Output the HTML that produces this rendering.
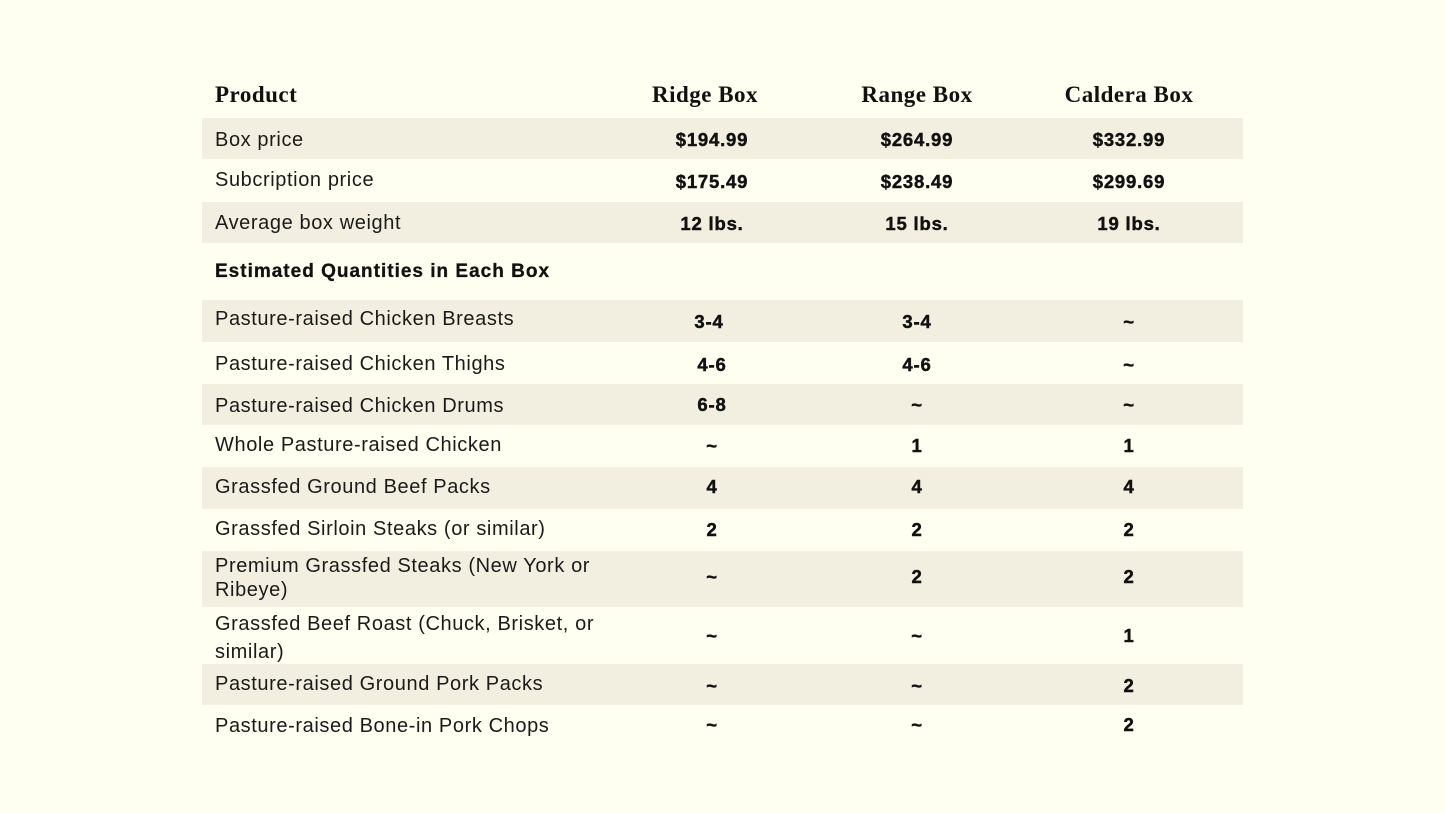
<!DOCTYPE html>
<html>
<head>
<meta charset="utf-8">
<style>
html,body{margin:0;padding:0;background:#FEFFF0;}
svg{display:block;}
.h{font-family:"Liberation Serif",serif;font-weight:bold;font-size:23px;letter-spacing:0.5px;fill:#111;}
.l{font-family:"Liberation Sans",sans-serif;font-size:20px;letter-spacing:0.6px;fill:#1a1a1a;}
.v{font-family:"Liberation Sans",sans-serif;font-weight:bold;font-size:18.5px;letter-spacing:0.8px;fill:#111;stroke:#111;stroke-width:0.45px;text-anchor:middle;}
.s{font-family:"Liberation Sans",sans-serif;font-weight:bold;font-size:19px;letter-spacing:1px;fill:#111;stroke:#111;stroke-width:0.3px;}
</style>
</head>
<body>
<svg width="1445" height="813" viewBox="0 0 1445 813" xmlns="http://www.w3.org/2000/svg">
<rect x="0" y="0" width="1445" height="813" fill="#FEFFF0"/>
<g fill="#F3EFE0">
<rect x="202" y="118" width="1041" height="41"/>
<rect x="202" y="202" width="1041" height="41"/>
<rect x="202" y="300" width="1041" height="42"/>
<rect x="202" y="384" width="1041" height="41"/>
<rect x="202" y="467" width="1041" height="42"/>
<rect x="202" y="551" width="1041" height="56"/>
<rect x="202" y="664" width="1041" height="41"/>
</g>

<text class="h" x="215" y="102">Product</text>
<text class="h" x="705" y="102" text-anchor="middle">Ridge Box</text>
<text class="h" x="917" y="102" text-anchor="middle">Range Box</text>
<text class="h" x="1129" y="102" text-anchor="middle">Caldera Box</text>

<text class="l" x="215" y="146">Box price</text>
<text class="v" x="712" y="146">$194.99</text>
<text class="v" x="917" y="146">$264.99</text>
<text class="v" x="1129" y="146">$332.99</text>

<text class="l" x="215" y="186">Subcription price</text>
<text class="v" x="712" y="188">$175.49</text>
<text class="v" x="917" y="188">$238.49</text>
<text class="v" x="1129" y="188">$299.69</text>

<text class="l" x="215" y="229">Average box weight</text>
<text class="v" x="712" y="230">12 lbs.</text>
<text class="v" x="917" y="230">15 lbs.</text>
<text class="v" x="1129" y="230">19 lbs.</text>

<text class="s" x="215" y="277">Estimated Quantities in Each Box</text>

<text class="l" x="215" y="325">Pasture-raised Chicken Breasts</text>
<text class="v" x="709" y="328">3-4</text>
<text class="v" x="917" y="328">3-4</text>
<text class="v" x="1129" y="328">~</text>

<text class="l" x="215" y="370">Pasture-raised Chicken Thighs</text>
<text class="v" x="712" y="371">4-6</text>
<text class="v" x="917" y="371">4-6</text>
<text class="v" x="1129" y="371">~</text>

<text class="l" x="215" y="412">Pasture-raised Chicken Drums</text>
<text class="v" x="712" y="411">6-8</text>
<text class="v" x="917" y="411">~</text>
<text class="v" x="1129" y="411">~</text>

<text class="l" x="215" y="451">Whole Pasture-raised Chicken</text>
<text class="v" x="712" y="452">~</text>
<text class="v" x="917" y="452">1</text>
<text class="v" x="1129" y="452">1</text>

<text class="l" x="215" y="493">Grassfed Ground Beef Packs</text>
<text class="v" x="712" y="493">4</text>
<text class="v" x="917" y="493">4</text>
<text class="v" x="1129" y="493">4</text>

<text class="l" x="215" y="535">Grassfed Sirloin Steaks (or similar)</text>
<text class="v" x="712" y="536">2</text>
<text class="v" x="917" y="536">2</text>
<text class="v" x="1129" y="536">2</text>

<text class="l" x="215" y="572">Premium Grassfed Steaks (New York or</text>
<text class="l" x="215" y="596">Ribeye)</text>
<text class="v" x="712" y="583">~</text>
<text class="v" x="917" y="583">2</text>
<text class="v" x="1129" y="583">2</text>

<text class="l" x="215" y="630">Grassfed Beef Roast (Chuck, Brisket, or</text>
<text class="l" x="215" y="658">similar)</text>
<text class="v" x="712" y="642">~</text>
<text class="v" x="917" y="642">~</text>
<text class="v" x="1129" y="642">1</text>

<text class="l" x="215" y="690">Pasture-raised Ground Pork Packs</text>
<text class="v" x="712" y="692">~</text>
<text class="v" x="917" y="692">~</text>
<text class="v" x="1129" y="692">2</text>

<text class="l" x="215" y="732">Pasture-raised Bone-in Pork Chops</text>
<text class="v" x="712" y="731">~</text>
<text class="v" x="917" y="731">~</text>
<text class="v" x="1129" y="731">2</text>
</svg>
</body>
</html>
